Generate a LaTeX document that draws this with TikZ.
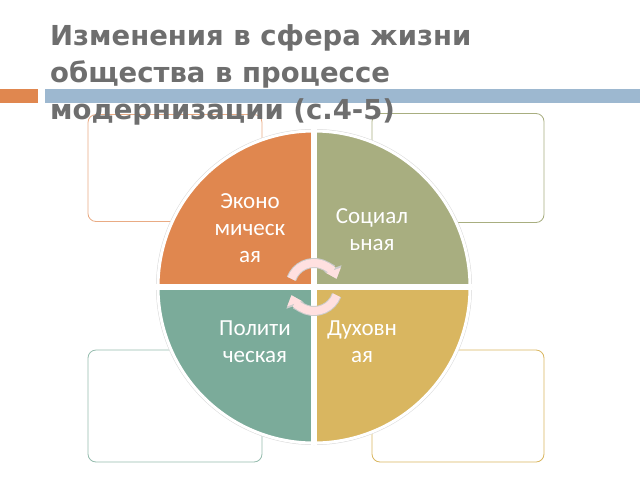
\documentclass[tikz,border=0pt]{standalone}
\usepackage{fontspec}
\setmainfont{DejaVu Sans}
\newfontfamily\qfont{Carlito}
\usetikzlibrary{arrows.meta}
\definecolor{cOr}{HTML}{E0874F}
\definecolor{cOl}{HTML}{A8AE80}
\definecolor{cTe}{HTML}{7BAB9A}
\definecolor{cGo}{HTML}{D9B660}
\definecolor{cBar}{HTML}{9DB8D0}
\definecolor{cTitle}{HTML}{6E6E6E}
\tikzset{
 box/.style={rounded corners=8pt,line width=0.8pt,fill=white},
 qtext/.style={font=\qfont\fontsize{23}{27}\selectfont,align=center,text=white},
 sector/.style={draw=white,line width=3pt},
 ring/.style={line width=10pt,draw=gray!40},
 ringin/.style={line width=8pt,draw=white!88!red},
}
\begin{document}
\begin{tikzpicture}[x=1pt,y=-1pt]
\useasboundingbox (0,0) rectangle (640,480);
\fill[cOr] (0,89) rectangle (38,103);
\fill[cBar] (45,89) rectangle (640,103);
\node[box,draw=cOr!70] (b1) at (175,168) [minimum width=174pt,minimum height=107pt] {};
\node[box,draw=cOl] (b2) at (458,168) [minimum width=172pt,minimum height=109pt] {};
\node[box,draw=cTe!80] (b3) at (175,406) [minimum width=174pt,minimum height=112pt] {};
\node[box,draw=cGo] (b4) at (458,406) [minimum width=172pt,minimum height=112pt] {};
\node[anchor=north west,align=left,text=cTitle,font=\bfseries\fontsize{27.5}{37}\selectfont,inner sep=0pt] (title) at (50,24) {Изменения в сфера жизни\\общества в процессе\\модернизации (с.4-5)};
\coordinate (c) at (314,287);
\begin{scope}[y=1pt]
\fill[gray!30] (c) circle (158pt);
\fill[white] (c) circle (156pt);
\filldraw[sector,fill=cOr] (c) -- ++(-156,0) arc[start angle=180,end angle=90,radius=156pt] -- cycle;
\filldraw[sector,fill=cOl] (c) -- ++(0,156) arc[start angle=90,end angle=0,radius=156pt] -- cycle;
\filldraw[sector,fill=cTe] (c) -- ++(-156,0) arc[start angle=180,end angle=270,radius=156pt] -- cycle;
\filldraw[sector,fill=cGo] (c) -- ++(156,0) arc[start angle=0,end angle=-90,radius=156pt] -- cycle;
\draw[white,line width=6pt] (c) ++(-158,0) -- ++(316,0);
\draw[white,line width=6pt] (c) ++(0,-158) -- ++(0,316);
\end{scope}
\node[qtext] (q1) at (250,228) {Эконо\\мическ\\ая};
\node[qtext] (q2) at (372,230) {Социал\\ьная};
\node[qtext] (q3) at (255,342) {Полити\\ческая};
\node[qtext] (q4) at (362,342) {Духовн\\ая};
\begin{scope}[y=1pt]
\draw[ring,-{Triangle[length=11pt,width=18pt]}] (c) ++(160:24pt) arc[start angle=160,end angle=20,radius=24pt];
\draw[ringin,-{Triangle[length=9pt,width=15pt]}] (c) ++(160:24pt) arc[start angle=160,end angle=20,radius=24pt];
\draw[ring,-{Triangle[length=11pt,width=18pt]}] (c) ++(-20:24pt) arc[start angle=-20,end angle=-160,radius=24pt];
\draw[ringin,-{Triangle[length=9pt,width=15pt]}] (c) ++(-20:24pt) arc[start angle=-20,end angle=-160,radius=24pt];
\end{scope}
\end{tikzpicture}
\end{document}
